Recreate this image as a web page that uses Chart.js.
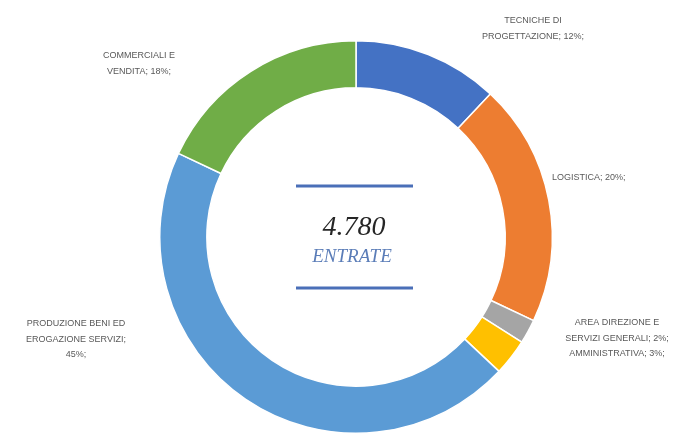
<!DOCTYPE html>
<html>
<head>
<meta charset="utf-8">
<script src="https://cdn.jsdelivr.net/npm/chart.js@4.4.0/dist/chart.umd.min.js"></script>
<style>
  html, body { margin: 0; padding: 0; background: #fff; }
  #wrap { width: 682px; height: 435px; position: relative; }
</style>
</head>
<body>
<div id="wrap"><canvas id="chart"></canvas></div>
<script>
// dati del grafico
const categories = [
    ['TECNICHE DI', 'PROGETTAZIONE; 12%;'],
    ['LOGISTICA; 20%;'],
    ['AREA DIREZIONE E', 'SERVIZI GENERALI; 2%;'],
    ['AMMINISTRATIVA; 3%;'],
    ['PRODUZIONE BENI ED', 'EROGAZIONE SERVIZI;', '45%;'],
    ['COMMERCIALI E', 'VENDITA; 18%;']
];
const values = [12, 20, 2, 3, 45, 18];
const colors = ['#4472C4', '#ED7D31', '#A5A5A5', '#FFC000', '#5B9BD5', '#70AD47'];
const totalLabel = '4.780';
const totalCaption = 'ENTRATE';

// posizione delle etichette (layout, non dati): x, y del primo rigo, allineamento
const labelLayout = [
    { x: 533, y: 21, align: 'center' },
    { x: 552, y: 178, align: 'left' },
    { x: 617, y: 323, align: 'center' },
    { x: 617, y: 354, align: 'center' },
    { x: 76, y: 324, align: 'center' },
    { x: 139, y: 56, align: 'center' }
];

const labelsPlugin = {
    id: 'outerLabels',
    afterDraw(chart) {
        const ctx = chart.ctx;
        ctx.save();
        ctx.fillStyle = '#595959';
        ctx.font = '9px "Liberation Sans", Arial, sans-serif';
        ctx.textBaseline = 'middle';
        categories.forEach((lines, i) => {
            const l = labelLayout[i];
            ctx.textAlign = l.align;
            lines.forEach((t, j) => ctx.fillText(t, l.x, l.y + j * 15.5));
        });

        // testo al centro
        const arc = chart.getDatasetMeta(0).data[0];
        const cx = arc.x, cy = arc.y;
        ctx.strokeStyle = '#4A6FB8';
        ctx.lineWidth = 3;
        ctx.beginPath();
        ctx.moveTo(cx - 60, cy - 51); ctx.lineTo(cx + 57, cy - 51);
        ctx.moveTo(cx - 60, cy + 51); ctx.lineTo(cx + 57, cy + 51);
        ctx.stroke();
        ctx.textAlign = 'center';
        ctx.fillStyle = '#262626';
        ctx.font = 'italic 28px "Liberation Serif", "DejaVu Serif", serif';
        ctx.fillText(totalLabel, cx - 2, cy - 9);
        ctx.fillStyle = '#5B7DB8';
        ctx.font = 'italic 19px "Liberation Serif", "DejaVu Serif", serif';
        ctx.fillText(totalCaption, cx - 4, cy + 20);
        ctx.restore();
    }
};

new Chart(document.getElementById('chart'), {
    type: 'doughnut',
    data: {
        labels: categories.map(c => c.join(' ')),
        datasets: [{
            data: values,
            backgroundColor: colors,
            borderColor: '#ffffff',
            borderWidth: 1.5
        }]
    },
    options: {
        responsive: true,
        maintainAspectRatio: false,
        animation: false,
        rotation: 0,
        cutout: '76%',
        layout: { padding: { top: 40, bottom: 1, left: 30, right: 0 } },
        plugins: { legend: { display: false }, tooltip: { enabled: false } }
    },
    plugins: [labelsPlugin]
});
</script>
</body>
</html>
